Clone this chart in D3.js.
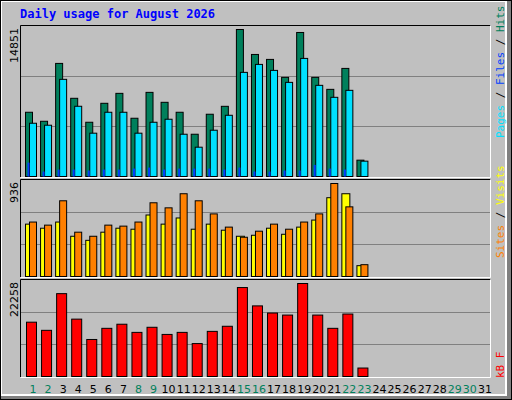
<!DOCTYPE html>
<html><head><meta charset="utf-8">
<script src="https://cdn.jsdelivr.net/npm/d3@7"></script>
<style>body{margin:0;background:#fff}svg{display:block}</style>
</head><body><svg id="c" width="512" height="400"></svg>
<script>
// values
var days = d3.range(1, 32);
var weekend = [1, 2, 8, 9, 15, 16, 22, 23, 29, 30];
var hits = [6490, 5580, 11425, 7900, 5480, 7395, 8400, 5885, 8500, 7495, 6490, 4270, 6290, 7090, 14851, 12330, 11830, 10015, 14550, 10015, 8805, 10920, 1650];
var files = [5380, 5180, 9815, 7095, 4375, 6490, 6490, 4375, 5480, 5785, 4270, 2960, 4675, 6185, 10520, 11325, 10720, 9510, 11930, 9210, 8000, 8705, 1550];
var pages = [1400, 500, 700, 700, 600, 700, 700, 800, 900, 700, 800, 800, 800, 700, 900, 500, 500, 600, 600, 1170, 800, 700, 0];
var sites = [527, 486, 548, 405, 364, 446, 486, 476, 619, 527, 589, 476, 527, 466, 405, 415, 486, 425, 497, 568, 793, 833, 109];
var visits = [548, 517, 762, 446, 405, 517, 507, 548, 742, 691, 833, 762, 630, 497, 395, 456, 527, 476, 548, 630, 936, 701, 119];
var kbytes = [13000, 11050, 19830, 13730, 8860, 11530, 12510, 10560, 11780, 10070, 10560, 7880, 10800, 12020, 21290, 16900, 15190, 14700, 22258, 14700, 11530, 14950, 2025];

var svg = d3.select("#c");
var mono = "'DejaVu Sans Mono', monospace", sans = "'DejaVu Sans', sans-serif";

// frame
svg.append("rect").attr("width", 512).attr("height", 400).attr("fill", "#808080");
svg.append("rect").attr("x", 0).attr("y", 0).attr("width", 507).attr("height", 396).attr("fill", "#fff");
svg.append("rect").attr("x", 2).attr("y", 2).attr("width", 503).attr("height", 392).attr("fill", "#c0c0c0");
svg.append("rect").attr("x", 0.5).attr("y", 0.5).attr("width", 511).attr("height", 399).attr("fill", "none").attr("stroke", "#000");

svg.append("text").attr("x", 20).attr("y", 18).attr("fill", "#0000ff")
  .style("font", "bold 12px " + mono).text("Daily usage for August 2026");

var x = d3.scaleBand().domain(days).range([22, 489]);

function panel(top, bottom, max, label, series, rightLabel, labelY) {
  svg.append("path").attr("d", `M20.5,${bottom}V${top + 0.5}H490.5`).attr("stroke", "#000").attr("fill", "none");
  svg.append("path").attr("d", `M20.5,${bottom + 0.5}H490.5V${top + 0.5}`).attr("stroke", "#fff").attr("fill", "none");
  var y = d3.scaleLinear().domain([0, max]).range([bottom - 1, top + 4]);
  [1, 2].forEach(function (k) {
    var gy = Math.round(bottom - (bottom - top) * k / 3) + 0.5;
    svg.append("line").attr("x1", 21).attr("x2", 490).attr("y1", gy).attr("y2", gy).attr("stroke", "#808080");
  });
  svg.append("text").attr("transform", `translate(18,${top + 3}) rotate(-90)`).attr("text-anchor", "end")
    .style("font", "11px " + sans).text(label);
  series.forEach(function (s) {
    svg.append("g").selectAll("rect").data(s.values).join("rect")
      .attr("x", (d, i) => x(days[i]) + s.dx + 0.5)
      .attr("width", s.w)
      .attr("y", d => y(d) + 0.5)
      .attr("height", d => Math.max(0, y(0) - y(d)))
      .attr("fill", s.color).attr("stroke", s.stroke ? "#000" : "none")
      .attr("display", d => d > 0 ? null : "none");
  });
  var t = svg.append("text").attr("transform", `translate(504,${labelY}) rotate(-90)`).style("font", "11px " + mono);
  rightLabel.forEach(function (p) { t.append("tspan").attr("fill", p[1]).text(p[0]); });
}

panel(25, 177, 14851, "14851", [
  {values: hits, color: "#00805c", dx: 3, w: 7, stroke: true},
  {values: files, color: "#00e0ff", dx: 7, w: 7, stroke: true},
  {values: pages, color: "#0040ff", dx: 5, w: 2, stroke: false}
], [["Pages", "#00e0ff"], [" / ", "#000"], ["Files", "#0040ff"], [" / ", "#000"], ["Hits", "#00805c"]], 138);

panel(179, 277, 936, "936", [
  {values: sites, color: "#ffff00", dx: 3, w: 8, stroke: true},
  {values: visits, color: "#ff8000", dx: 7, w: 7, stroke: true}
], [["Sites", "#ff8000"], [" / ", "#000"], ["Visits", "#ffff00"]], 258);

panel(279, 377, 22258, "22258", [
  {values: kbytes, color: "#ff0000", dx: 4, w: 10, stroke: true}
], [["kB F", "#ff0000"]], 378);

svg.append("g").selectAll("text").data(days).join("text")
  .attr("x", d => x(d) + 11).attr("y", 393).attr("text-anchor", "middle")
  .attr("fill", d => weekend.includes(d) ? "#00805c" : "#000")
  .style("font", "11px " + sans).text(d => d);
</script></body></html>
